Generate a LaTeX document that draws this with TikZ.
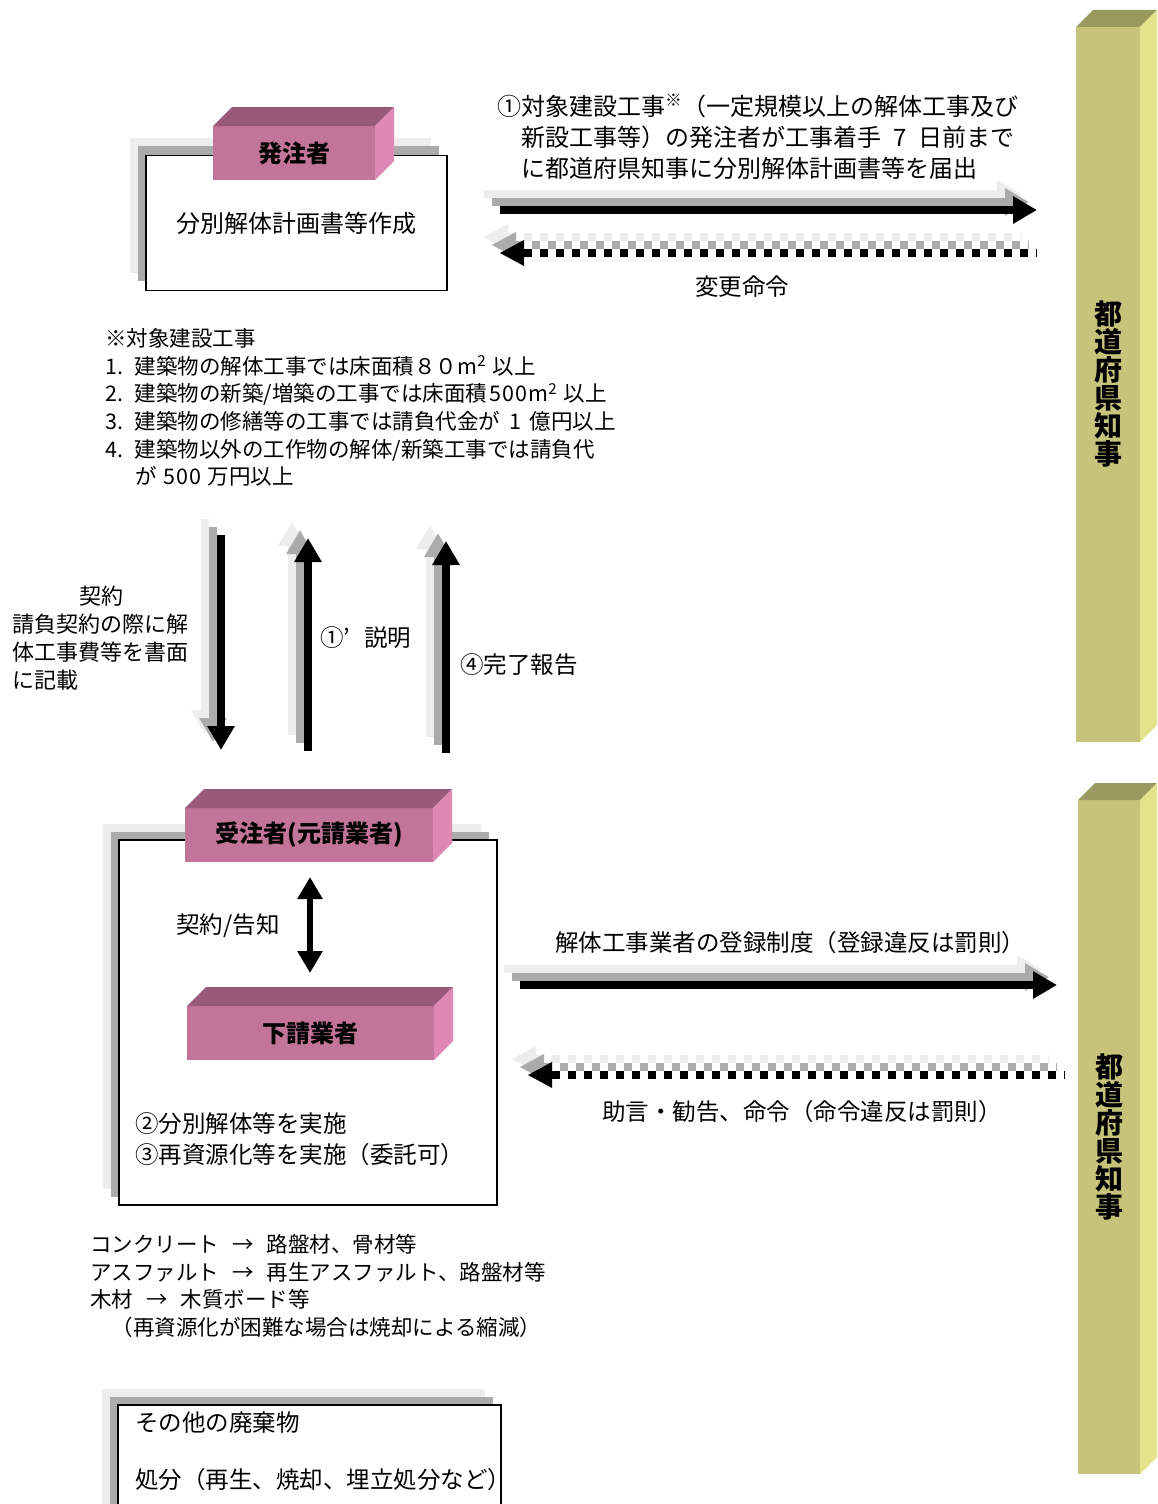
\documentclass[tikz,border=0pt]{standalone}
\usepackage{fontspec}
\setmainfont{Noto Sans CJK JP}
\usetikzlibrary{calc,arrows.meta}
\definecolor{pinkF}{HTML}{C27499}
\definecolor{pinkT}{HTML}{985A78}
\definecolor{pinkS}{HTML}{E088B4}
\definecolor{oliveF}{HTML}{C5C47A}
\definecolor{oliveT}{HTML}{9B9A5E}
\definecolor{oliveS}{HTML}{E3E38B}
\definecolor{shA}{HTML}{ABABAB}
\definecolor{shB}{HTML}{EDEDED}
\newcommand\setfs[2]{\fontsize{#1}{#2}\selectfont}
\newcommand\gap[1]{\hspace{#1em}}
\newcommand\boxfaces[4]{%
  \fill[#3] (#1.north west) -- ++(#2,-#2) -- ($(#1.north east)+(#2,-#2)$) -- (#1.north east) -- cycle;
  \fill[#4] (#1.north east) -- ++(#2,-#2) -- ($(#1.south east)+(#2,-#2)$) -- (#1.south east) -- cycle;}
\newcommand\solidarrow[2]{%
  \draw[solidarr, shB, transform canvas={shift={(-16,-16)}}] (#1) -- (#2);
  \draw[solidarr, shA, transform canvas={shift={(-8,-8)}}] (#1) -- (#2);
  \draw[solidarr, black] (#1) -- (#2);}
\newcommand\dotarrowL[3]{% tip, head base, far end
  \begin{scope}[transform canvas={shift={(-16,-16)}}]
    \draw[dotshaft, shB] (#2) -- (#3);
    \fill[shB] (#1) -- ++(24,-13) -- ++(0,26) -- cycle;
  \end{scope}
  \begin{scope}[transform canvas={shift={(-8,-8)}}]
    \draw[dotshaft, shA] (#2) -- (#3);
    \fill[shA] (#1) -- ++(24,-13) -- ++(0,26) -- cycle;
  \end{scope}
  \draw[dotshaft, black] (#2) -- (#3);
  \fill[black] (#1) -- ++(24,-13) -- ++(0,26) -- cycle;}
\tikzset{
  solidarr/.style={line width=8pt, -{Triangle[length=24pt,width=26pt]}},
  dotshaft/.style={line width=8pt, dash pattern=on 8pt off 8pt},
  wbox/.style={draw=black, line width=1.6pt, fill=white, inner sep=0pt, outer sep=0pt},
  pbox/.style={fill=pinkF, inner sep=0pt, outer sep=0pt, minimum height=54pt, font=\bfseries\setfs{24}{28}},
  obar/.style={fill=oliveF, inner sep=0pt, outer sep=0pt, align=center, font=\bfseries\setfs{28}{28}},
  big/.style={inner sep=0pt, font=\setfs{23.5}{31}},
  small/.style={inner sep=0pt, font=\setfs{21.5}{27.6}},
}
\begin{document}
\begin{tikzpicture}[x=1pt,y=-1pt]
\clip (0,0) rectangle (1157,1504);
\fill[white] (0,0) rectangle (1157,1504);

% prefecture bars
\node[obar, minimum width=64pt, minimum height=715pt] (pref1) at (1108,384.5) {都\\道\\府\\県\\知\\事};
\boxfaces{pref1}{17}{oliveT}{oliveS}
\node[obar, minimum width=62pt, minimum height=674pt] (pref2) at (1109,1137) {都\\道\\府\\県\\知\\事};
\boxfaces{pref2}{17}{oliveT}{oliveS}

% white boxes with shadows
\fill[shB] (130,138) rectangle (431,273);
\fill[shA] (138,146) rectangle (439,281);
\node[wbox, minimum width=301pt, minimum height=135pt, font=\setfs{24}{28}] (plan) at (296.5,223) {分別解体計画書等作成};

\fill[shB] (103,824) rectangle (481,1189);
\fill[shA] (111,832) rectangle (489,1197);
\node[wbox, minimum width=378pt, minimum height=365pt] (contr) at (308,1022.5) {};

\fill[shB] (102,1389) rectangle (485,1510);
\fill[shA] (110,1397) rectangle (493,1512);
\node[wbox, minimum width=383pt, minimum height=115pt] (other) at (309.5,1462.5) {};

% pink 3D boxes
\node[pbox, minimum width=162pt] (owner) at (294,153) {発注者};
\boxfaces{owner}{19}{pinkT}{pinkS}
\node[pbox, minimum width=248pt] (prime) at (309,835) {受注者(元請業者)};
\boxfaces{prime}{19}{pinkT}{pinkS}
\node[pbox, minimum width=247pt] (sub) at (310.5,1033) {下請業者};
\boxfaces{sub}{19}{pinkT}{pinkS}

% connector end points
\coordinate (r1s) at (500,210);   \coordinate (r1e) at (1037,210);
\coordinate (d1t) at (500,253);   \coordinate (d1b) at (524,253); \coordinate (d1e) at (1037,253);
\coordinate (r2s) at (520,985);   \coordinate (r2e) at (1057,985);
\coordinate (d2t) at (528,1075);  \coordinate (d2b) at (552,1075); \coordinate (d2e) at (1065,1075);
\coordinate (v1s) at (221,535);   \coordinate (v1e) at (221,750);
\coordinate (v2s) at (308,751);   \coordinate (v2e) at (308,538);
\coordinate (v3s) at (446,753);   \coordinate (v3e) at (446,541);
\coordinate (k1) at (310,877);    \coordinate (k2) at (310,973);

\solidarrow{r1s}{r1e}
\dotarrowL{d1t}{d1b}{d1e}
\solidarrow{r2s}{r2e}
\dotarrowL{d2t}{d2b}{d2e}
\solidarrow{v1s}{v1e}
\solidarrow{v2s}{v2e}
\solidarrow{v3s}{v3e}
\draw[line width=6pt, {Triangle[length=22pt,width=24pt]}-{Triangle[length=22pt,width=24pt]}] (k1) -- (k2);

% texts
\node[inner sep=0pt, font=\setfs{24}{31}, anchor=north west, align=left] (t1) at (497,94) {①対象建設工事\textsuperscript{※}（一定規模以上の解体工事及び\\\hspace*{1em}新設工事等）の発注者が工事着手\gap{0.5}7\gap{0.5}日前まで\\\hspace*{1em}に都道府県知事に分別解体計画書等を届出};
\node[big] (t2) at (742,287) {変更命令};
\node[small, anchor=north west, align=left] (t3) at (105,328.3) {※対象建設工事\\1.\gap{0.55}建築物の解体工事では床面積８０m\textsuperscript{2}\gap{0.3}以上\\2.\gap{0.55}建築物の新築/増築の工事では床面積\gap{0.1}5\gap{0.05}0\gap{0.05}0\gap{0.05}m\textsuperscript{2}\gap{0.3}以上\\3.\gap{0.55}建築物の修繕等の工事では請負代金が\gap{0.4}1\gap{0.4}億円以上\\4.\gap{0.55}建築物以外の工作物の解体/新築工事では請負代\\\hspace*{1.4em}が\gap{0.3}5\gap{0.05}0\gap{0.05}0\gap{0.3}万円以上};
\node[inner sep=0pt, font=\setfs{22}{27.8}] (t4) at (101,596) {契約};
\node[inner sep=0pt, font=\setfs{22}{27.8}, anchor=north west, align=left] (t5) at (12,614) {請負契約の際に解\\体工事費等を書面\\に記載};
\node[big, anchor=west] (t6) at (320,638) {①’\gap{0.6}説明};
\node[big, anchor=west] (t7) at (460,665) {④完了報告};
\node[big] (t8) at (228,926) {契約/告知};
\node[big, anchor=north west, align=left] (t9) at (135,1112) {②分別解体等を実施\\③再資源化等を実施（委託可）};
\node[small, anchor=north west, align=left] (t10) at (90,1234.3) {コンクリート\gap{0.6}→\gap{0.6}路盤材、骨材等\\アスファルト\gap{0.6}→\gap{0.6}再生アスファルト、路盤材等\\木材\gap{0.6}→\gap{0.6}木質ボード等\\\hspace*{1em}（再資源化が困難な場合は焼却による縮減）};
\node[big, anchor=west] (t11) at (135,1423) {その他の廃棄物};
\node[big, anchor=west] (t12) at (135,1480) {処分（再生、焼却、埋立処分など）};
\node[big] (t13) at (790,943) {解体工事業者の登録制度（登録違反は罰則）};
\node[big] (t14) at (802,1112) {助言・勧告、命令（命令違反は罰則）};
\end{tikzpicture}
\end{document}
